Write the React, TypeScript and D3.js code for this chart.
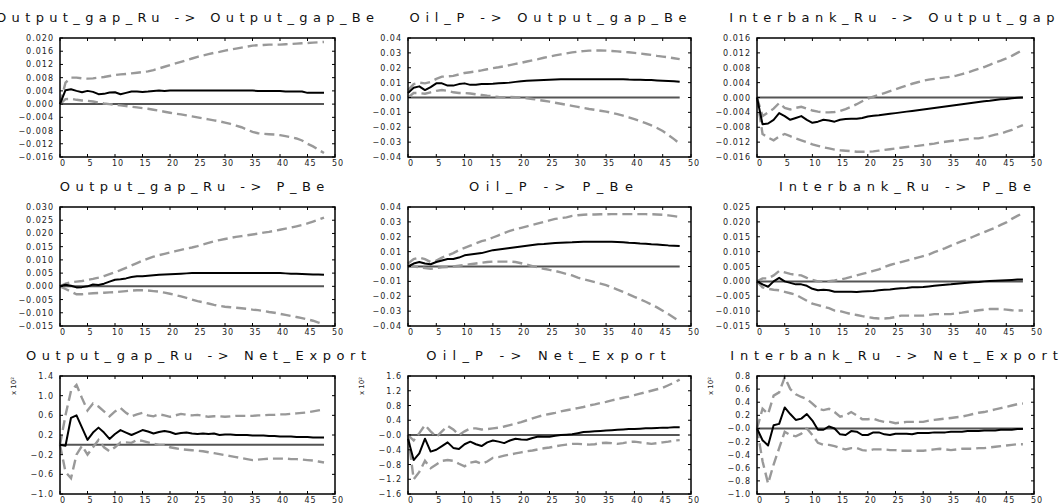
import React from 'react';
import * as d3 from 'd3';

// horizon 0..48, x axis 0..50
const horizon = d3.range(0, 49);
const xTicks = [0, 5, 10, 15, 20, 25, 30, 35, 40, 45, 50];

// ---- Output_gap_Ru -> Output_gap_Be
const ogOgIrf = [0, 0.0042, 0.0045, 0.004, 0.0036, 0.004, 0.0037, 0.003, 0.0031, 0.0035, 0.0036, 0.003, 0.0034, 0.0038, 0.0038, 0.0037, 0.0038, 0.004, 0.0041, 0.004,
  0.0041, 0.0041, 0.0041, 0.0041, 0.0041, 0.0041, 0.0041, 0.0041, 0.0041, 0.0041, 0.0041, 0.0041, 0.0041, 0.0041, 0.0041, 0.0041,
  0.004, 0.004, 0.004, 0.004, 0.004, 0.0038, 0.0038, 0.0038, 0.0038, 0.0034, 0.0034, 0.0034, 0.0034];
const ogOgHi = [0, 0.0065, 0.008, 0.008, 0.0078, 0.0077, 0.0078, 0.008, 0.0082, 0.0085, 0.0088, 0.009, 0.0091, 0.0093, 0.0095, 0.0097, 0.0099, 0.0103, 0.0108, 0.0113,
  0.0118, 0.0123, 0.0128, 0.0133, 0.0138, 0.0143, 0.0147, 0.0151, 0.0155, 0.0158, 0.0162, 0.0165, 0.0168, 0.0171, 0.0174, 0.0177, 0.0178, 0.0179, 0.018, 0.018,
  0.018, 0.0181, 0.0182, 0.0183, 0.0184, 0.0185, 0.0186, 0.0187, 0.0188];
const ogOgLo = [0, 0.0015, 0.0016, 0.0013, 0.0011, 0.001, 0.0008, 0.0005, 0.0002, 0, -0.0002, -0.0004, -0.0006, -0.0008, -0.001, -0.0012, -0.0014, -0.0017, -0.002, -0.0023,
  -0.0026, -0.0029, -0.0031, -0.0034, -0.0037, -0.004, -0.0043, -0.0046, -0.0049, -0.0052, -0.0056, -0.006, -0.0065, -0.007, -0.0077, -0.0084, -0.0088, -0.009, -0.0091, -0.0092,
  -0.0094, -0.0097, -0.01, -0.0104, -0.011, -0.012, -0.0128, -0.0138, -0.0148];

// ---- Oil_P -> Output_gap_Be
const oilOgIrf = [0.003, 0.0065, 0.0075, 0.005, 0.007, 0.0095, 0.0095, 0.008, 0.008, 0.009, 0.0095, 0.0085, 0.0085, 0.009, 0.009, 0.0092, 0.0095, 0.0098, 0.01, 0.0105,
  0.011, 0.0112, 0.0114, 0.0116, 0.0118, 0.012, 0.0121, 0.0122, 0.0123, 0.0123, 0.0123, 0.0123, 0.0123, 0.0123, 0.0123, 0.0123, 0.0123, 0.0123, 0.0123,
  0.0121, 0.012, 0.0119, 0.0118, 0.0117, 0.0115, 0.0113, 0.0111, 0.0109, 0.0106];
const oilOgHi = [0.005, 0.009, 0.01, 0.0095, 0.0105, 0.0125, 0.014, 0.0142, 0.0145, 0.0155, 0.0165, 0.017, 0.0175, 0.0182, 0.019, 0.0197, 0.0203, 0.021, 0.0218, 0.0226,
  0.0233, 0.0242, 0.025, 0.0258, 0.0267, 0.0275, 0.0283, 0.029, 0.0297, 0.0303, 0.0308, 0.0312, 0.0315, 0.0316, 0.0316, 0.0315, 0.0313, 0.031, 0.0307, 0.0304,
  0.03, 0.0296, 0.0291, 0.0286, 0.028, 0.0275, 0.027, 0.0264, 0.0258];
const oilOgLo = [0, 0.003, 0.003, 0.0025, 0.0035, 0.0045, 0.005, 0.0045, 0.0035, 0.003, 0.003, 0.0027, 0.0022, 0.0017, 0.0012, 0.0008, 0.0004, 0.0002, 0.0003, 0.0002,
  0, -0.0005, -0.001, -0.0016, -0.0022, -0.0028, -0.0035, -0.0042, -0.0049, -0.0056, -0.0063, -0.007, -0.0077, -0.0083, -0.0089, -0.0095, -0.0103, -0.0112, -0.0122, -0.0133,
  -0.0145, -0.0158, -0.0172, -0.0188, -0.0205, -0.0225, -0.0252, -0.028, -0.031];

// ---- Interbank_Ru -> Output_gap_Be
const ibOgIrf = [0, -0.0072, -0.007, -0.006, -0.0042, -0.005, -0.006, -0.0055, -0.005, -0.006, -0.0068, -0.0065, -0.006, -0.0062, -0.0065, -0.006, -0.0058, -0.0057, -0.0057, -0.0055,
  -0.0051, -0.0049, -0.0048, -0.0046, -0.0044, -0.0042, -0.004, -0.0038, -0.0036, -0.0034, -0.0032, -0.003, -0.0028, -0.0026, -0.0024, -0.0022, -0.002, -0.0018, -0.0016, -0.0014,
  -0.0012, -0.001, -0.0009, -0.0007, -0.0005, -0.0004, -0.0002, -0.0001, 0];
const ibOgHi = [0, -0.005, -0.004, -0.003, -0.0015, -0.0028, -0.0032, -0.0028, -0.0025, -0.003, -0.0035, -0.0038, -0.004, -0.004, -0.0039, -0.0036, -0.0031, -0.0025, -0.0018, -0.001,
  -0.0003, 0.0002, 0.0007, 0.0012, 0.0017, 0.0022, 0.0027, 0.0032, 0.0037, 0.0041, 0.0045, 0.0048, 0.005, 0.0052, 0.0054, 0.0056, 0.0059, 0.0063, 0.0067, 0.0072,
  0.0077, 0.0082, 0.0088, 0.0094, 0.0099, 0.0105, 0.0112, 0.012, 0.0128];
const ibOgLo = [0, -0.0098, -0.0108, -0.0115, -0.0105, -0.0098, -0.0104, -0.011, -0.0115, -0.012, -0.0126, -0.013, -0.0134, -0.0137, -0.014, -0.0142, -0.0143, -0.0144, -0.0146, -0.0146,
  -0.0146, -0.0145, -0.0143, -0.0141, -0.0139, -0.0137, -0.0135, -0.0133, -0.0131, -0.013, -0.0128, -0.0126, -0.0124, -0.0121, -0.0119, -0.0117, -0.0116, -0.0114, -0.0112, -0.011,
  -0.011, -0.0107, -0.0104, -0.01, -0.0097, -0.0092, -0.0087, -0.008, -0.0074];

// ---- Output_gap_Ru -> P_Be
const ogPIrf = [0, 0.0006, 0.0002, -0.0004, -0.0003, 0, 0.0007, 0.0005, 0.001, 0.0018, 0.0025, 0.0027, 0.003, 0.0035, 0.0038, 0.0038, 0.004, 0.0042, 0.0044, 0.0045,
  0.0046, 0.0047, 0.0048, 0.0049, 0.005, 0.005, 0.005, 0.005, 0.005, 0.005, 0.005, 0.005, 0.005, 0.005, 0.005, 0.005, 0.005, 0.005, 0.005, 0.005,
  0.005, 0.0049, 0.0048, 0.0048, 0.0047, 0.0046, 0.0045, 0.0045, 0.0044];
const ogPHi = [0, 0.001, 0.0015, 0.0018, 0.002, 0.0024, 0.0028, 0.0033, 0.0039, 0.0046, 0.0053, 0.0061, 0.007, 0.0079, 0.0088, 0.0097, 0.0105, 0.0112, 0.0118, 0.0123,
  0.0128, 0.0133, 0.0138, 0.0143, 0.0147, 0.0152, 0.0158, 0.0164, 0.017, 0.0175, 0.0179, 0.0183, 0.0187, 0.019, 0.0193, 0.0196, 0.0199, 0.0203, 0.0206, 0.021,
  0.0214, 0.0218, 0.0222, 0.0227, 0.0232, 0.0238, 0.0245, 0.0252, 0.026];
const ogPLo = [0, -0.001, -0.002, -0.003, -0.003, -0.0028, -0.0026, -0.0025, -0.0024, -0.0023, -0.0022, -0.002, -0.0018, -0.0016, -0.0015, -0.0015, -0.0016, -0.0018, -0.002, -0.0024,
  -0.0028, -0.0033, -0.0038, -0.0044, -0.005, -0.0056, -0.006, -0.0065, -0.007, -0.0074, -0.0077, -0.0079, -0.0081, -0.0083, -0.0085, -0.0088, -0.009, -0.0093, -0.0097, -0.01,
  -0.0104, -0.0108, -0.0112, -0.0116, -0.012, -0.0125, -0.013, -0.0137, -0.0144];

// ---- Oil_P -> P_Be
const oilPIrf = [0, 0.002, 0.003, 0.002, 0.0015, 0.003, 0.004, 0.005, 0.005, 0.006, 0.0075, 0.008, 0.0085, 0.009, 0.01, 0.011, 0.0115, 0.012, 0.0125, 0.013,
  0.0135, 0.014, 0.0145, 0.015, 0.0152, 0.0155, 0.0158, 0.016, 0.0162, 0.0163, 0.0165, 0.0166, 0.0166, 0.0166, 0.0166, 0.0166, 0.0166, 0.0165, 0.0163, 0.016,
  0.0158, 0.0155, 0.0153, 0.015, 0.0148, 0.0145, 0.0142, 0.014, 0.0138];
const oilPHi = [0.002, 0.005, 0.006, 0.005, 0.003, 0.004, 0.006, 0.0075, 0.009, 0.011, 0.0125, 0.014, 0.0155, 0.017, 0.018, 0.0195, 0.021, 0.0225, 0.024, 0.025,
  0.026, 0.027, 0.028, 0.029, 0.03, 0.031, 0.032, 0.0325, 0.033, 0.034, 0.0345, 0.0348, 0.035, 0.035, 0.0351, 0.0351, 0.0352, 0.0352, 0.0352, 0.0352,
  0.0352, 0.0352, 0.0352, 0.0351, 0.035, 0.0348, 0.0344, 0.0339, 0.0333];
const oilPLo = [0, 0, -0.0005, -0.001, -0.0015, -0.001, -0.0005, -0.0003, 0, 0.0005, 0.001, 0.0015, 0.002, 0.0025, 0.003, 0.0033, 0.0033, 0.0033, 0.0033, 0.003,
  0.0022, 0.0012, 0.0003, -0.0006, -0.0015, -0.0023, -0.003, -0.004, -0.005, -0.006, -0.0075, -0.0085, -0.0095, -0.0105, -0.0115, -0.0125, -0.014, -0.0155, -0.017, -0.0187,
  -0.0204, -0.022, -0.0237, -0.0255, -0.0275, -0.0297, -0.032, -0.0345, -0.037];

// ---- Interbank_Ru -> P_Be
const ibPIrf = [0, -0.001, -0.0018, 0, 0.0012, 0, -0.0005, -0.001, -0.001, -0.0015, -0.0025, -0.003, -0.0028, -0.003, -0.0035, -0.0035, -0.0035, -0.0035, -0.0036, -0.0034,
  -0.0033, -0.0032, -0.003, -0.0028, -0.0027, -0.0025, -0.0023, -0.0022, -0.002, -0.002, -0.0019, -0.0017, -0.0015, -0.0013, -0.0011, -0.001, -0.0008, -0.0006, -0.0005, -0.0003,
  -0.0002, 0, 0.0001, 0.0002, 0.0003, 0.0004, 0.0005, 0.0006, 0.0006];
const ibPHi = [0, 0.001, 0.001, 0.002, 0.0035, 0.003, 0.0025, 0.0022, 0.002, 0.0012, 0.0005, 0, 0, 0.0001, 0.0003, 0.0006, 0.001, 0.0015, 0.002, 0.0025,
  0.003, 0.0035, 0.004, 0.0048, 0.0055, 0.006, 0.0065, 0.007, 0.0075, 0.008, 0.0085, 0.009, 0.0098, 0.0105, 0.0112, 0.012, 0.0128, 0.0135, 0.0142, 0.015,
  0.0158, 0.0165, 0.0173, 0.018, 0.019, 0.0198, 0.021, 0.022, 0.023];
const ibPLo = [0, -0.002, -0.0025, -0.0028, -0.003, -0.0035, -0.004, -0.0045, -0.0055, -0.0065, -0.0075, -0.008, -0.0085, -0.009, -0.0098, -0.01, -0.0105, -0.011, -0.0113, -0.0117,
  -0.012, -0.0123, -0.0125, -0.0125, -0.0123, -0.012, -0.0115, -0.0115, -0.0115, -0.0115, -0.0115, -0.0113, -0.011, -0.011, -0.011, -0.011, -0.0107, -0.0105, -0.0102, -0.01,
  -0.0097, -0.0095, -0.0093, -0.0093, -0.0093, -0.0095, -0.0097, -0.0098, -0.0098];

// ---- Output_gap_Ru -> Net_Export (x 10^2)
const ogNxIrf = [0, -0.02, 0.55, 0.6, 0.35, 0.1, 0.25, 0.35, 0.25, 0.12, 0.22, 0.3, 0.25, 0.2, 0.25, 0.3, 0.27, 0.23, 0.26, 0.28,
  0.26, 0.22, 0.24, 0.25, 0.23, 0.22, 0.23, 0.22, 0.23, 0.2, 0.21, 0.21, 0.2, 0.2, 0.2, 0.19, 0.19, 0.19, 0.18, 0.18,
  0.17, 0.17, 0.17, 0.16, 0.16, 0.16, 0.15, 0.15, 0.15];
const ogNxHi = [0, 0.6, 1.1, 1.22, 0.95, 0.7, 0.84, 0.78, 0.68, 0.58, 0.68, 0.75, 0.65, 0.58, 0.62, 0.65, 0.6, 0.58, 0.62, 0.6,
  0.57, 0.6, 0.63, 0.61, 0.6, 0.61, 0.59, 0.57, 0.58, 0.58, 0.57, 0.58, 0.59, 0.59, 0.59, 0.59, 0.6, 0.6, 0.61, 0.61,
  0.62, 0.62, 0.63, 0.64, 0.65, 0.66, 0.68, 0.7, 0.72];
const ogNxLo = [0, -0.55, -0.68, -0.2, -0.02, -0.2, -0.05, 0.1, -0.05, -0.13, -0.05, 0.05, 0.05, 0.04, 0.1, 0.08, 0.05, 0.02, 0, 0,
  -0.05, -0.07, -0.09, -0.1, -0.11, -0.12, -0.13, -0.15, -0.17, -0.19, -0.21, -0.23, -0.25, -0.27, -0.29, -0.31, -0.3, -0.29, -0.28, -0.28,
  -0.28, -0.28, -0.29, -0.29, -0.3, -0.31, -0.32, -0.34, -0.36];

// ---- Oil_P -> Net_Export (x 10^2)
const oilNxIrf = [-0.1, -0.68, -0.5, -0.1, -0.45, -0.4, -0.3, -0.2, -0.35, -0.38, -0.25, -0.18, -0.25, -0.3, -0.2, -0.15, -0.18, -0.22, -0.15, -0.1,
  -0.12, -0.13, -0.08, -0.04, -0.05, -0.05, -0.02, 0, 0.01, 0.02, 0.05, 0.08, 0.09, 0.1, 0.11, 0.12, 0.13, 0.14, 0.15, 0.16,
  0.16, 0.17, 0.18, 0.18, 0.19, 0.2, 0.2, 0.21, 0.21];
const oilNxHi = [0, -0.15, 0.05, 0.27, 0.1, -0.05, 0.1, 0.25, 0.15, 0, 0.1, 0.18, 0.18, 0.15, 0.16, 0.18, 0.2, 0.23, 0.27, 0.31,
  0.35, 0.4, 0.45, 0.5, 0.54, 0.57, 0.6, 0.64, 0.67, 0.7, 0.73, 0.76, 0.8, 0.83, 0.87, 0.9, 0.94, 0.97, 1.01, 1.04,
  1.08, 1.12, 1.16, 1.2, 1.24, 1.28, 1.35, 1.42, 1.5];
const oilNxLo = [0, -1.2, -1.0, -0.7, -0.9, -0.8, -0.7, -0.68, -0.7, -0.78, -0.85, -0.75, -0.72, -0.78, -0.72, -0.62, -0.6, -0.56, -0.53, -0.5,
  -0.47, -0.44, -0.42, -0.39, -0.36, -0.34, -0.31, -0.28, -0.26, -0.24, -0.24, -0.25, -0.26, -0.25, -0.22, -0.21, -0.22, -0.24, -0.22, -0.19,
  -0.18, -0.2, -0.22, -0.24, -0.22, -0.2, -0.18, -0.15, -0.14];

// ---- Interbank_Ru -> Net_Export (x 10^2)
const ibNxIrf = [0, -0.18, -0.26, 0.05, 0.07, 0.32, 0.22, 0.13, 0.15, 0.22, 0.12, -0.02, -0.02, 0.03, 0, -0.09, -0.1, -0.04, -0.05, -0.1,
  -0.1, -0.06, -0.06, -0.09, -0.1, -0.08, -0.08, -0.08, -0.09, -0.07, -0.07, -0.07, -0.06, -0.06, -0.06, -0.05, -0.05, -0.05, -0.04, -0.04,
  -0.04, -0.03, -0.03, -0.03, -0.02, -0.02, -0.02, -0.01, -0.01];
const ibNxHi = [0, 0.3, 0.22, 0.5, 0.55, 0.78, 0.6, 0.52, 0.48, 0.45, 0.38, 0.3, 0.28, 0.3, 0.25, 0.18, 0.2, 0.25, 0.2, 0.14,
  0.14, 0.15, 0.12, 0.1, 0.1, 0.08, 0.09, 0.1, 0.1, 0.1, 0.1, 0.12, 0.13, 0.14, 0.15, 0.16, 0.17, 0.18, 0.2, 0.22,
  0.24, 0.25, 0.27, 0.29, 0.31, 0.33, 0.35, 0.37, 0.38];
const ibNxLo = [0, -0.5, -0.84, -0.55, -0.3, -0.05, -0.1, -0.12, -0.08, 0, -0.1, -0.22, -0.25, -0.25, -0.27, -0.3, -0.32, -0.3, -0.3, -0.33,
  -0.34, -0.32, -0.32, -0.32, -0.33, -0.33, -0.34, -0.34, -0.34, -0.34, -0.34, -0.33, -0.32, -0.31, -0.32, -0.33, -0.32, -0.31, -0.31, -0.31,
  -0.3, -0.3, -0.29, -0.28, -0.27, -0.26, -0.25, -0.24, -0.24];

// y tick values per panel
const ticksOgOg = [-0.016, -0.012, -0.008, -0.004, 0, 0.004, 0.008, 0.012, 0.016, 0.02];
const ticksOilOg = [-0.04, -0.03, -0.02, -0.01, 0, 0.01, 0.02, 0.03, 0.04];
const ticksIbOg = [-0.016, -0.012, -0.008, -0.004, 0, 0.004, 0.008, 0.012, 0.016];
const ticksOgP = [-0.015, -0.01, -0.005, 0, 0.005, 0.01, 0.015, 0.02, 0.025, 0.03];
const ticksOilP = [-0.04, -0.03, -0.02, -0.01, 0, 0.01, 0.02, 0.03, 0.04];
const ticksIbP = [-0.015, -0.01, -0.005, 0, 0.005, 0.01, 0.015, 0.02, 0.025];
const ticksOgNx = [-1.0, -0.6, -0.2, 0.2, 0.6, 1.0, 1.4];
const ticksOilNx = [-1.6, -1.2, -0.8, -0.4, 0, 0.4, 0.8, 1.2, 1.6];
const ticksIbNx = [-1.0, -0.8, -0.6, -0.4, -0.2, 0, 0.2, 0.4, 0.6, 0.8];

const panels = [
  [
    { title: 'Output_gap_Ru -> Output_gap_Be', irf: ogOgIrf, hi: ogOgHi, lo: ogOgLo, ticks: ticksOgOg, dec: 3 },
    { title: 'Oil_P -> Output_gap_Be', irf: oilOgIrf, hi: oilOgHi, lo: oilOgLo, ticks: ticksOilOg, dec: 2 },
    { title: 'Interbank_Ru -> Output_gap_Be', irf: ibOgIrf, hi: ibOgHi, lo: ibOgLo, ticks: ticksIbOg, dec: 3 },
  ],
  [
    { title: 'Output_gap_Ru -> P_Be', irf: ogPIrf, hi: ogPHi, lo: ogPLo, ticks: ticksOgP, dec: 3 },
    { title: 'Oil_P -> P_Be', irf: oilPIrf, hi: oilPHi, lo: oilPLo, ticks: ticksOilP, dec: 2 },
    { title: 'Interbank_Ru -> P_Be', irf: ibPIrf, hi: ibPHi, lo: ibPLo, ticks: ticksIbP, dec: 3 },
  ],
  [
    { title: 'Output_gap_Ru -> Net_Export', irf: ogNxIrf, hi: ogNxHi, lo: ogNxLo, ticks: ticksOgNx, dec: 1, scaled: true },
    { title: 'Oil_P -> Net_Export', irf: oilNxIrf, hi: oilNxHi, lo: oilNxLo, ticks: ticksOilNx, dec: 1, scaled: true },
    { title: 'Interbank_Ru -> Net_Export', irf: ibNxIrf, hi: ibNxHi, lo: ibNxLo, ticks: ticksIbNx, dec: 1, scaled: true },
  ],
];

// layout
const W = 1059, H = 504;
const cols = [[60, 335], [408, 691], [757, 1034]];
const rows = [38, 207, 376];
const plotH = [119, 119, 118];
const titleCx = [[185, 548, 912], [192, 551, 905], [196, 546, 894]];
const font = '"DejaVu Sans", sans-serif';

function fmt(v, dec, scaled) {
  if (v === 0) return scaled ? '−0.0' : (0).toFixed(dec);
  const s = Math.abs(v).toFixed(dec);
  return v < 0 ? '−' + s : s;
}

function Panel({ p, x0, x1, top, h, cx }) {
  const x = d3.scaleLinear().domain([0, 50]).range([x0, x1]);
  const y = d3.scaleLinear().domain([p.ticks[0], p.ticks[p.ticks.length - 1]]).range([top + h, top]);
  const line = d3.line().x((d, i) => x(horizon[i])).y(d => y(d));
  const zero = d3.line().x(d => x(d)).y(() => y(0));
  const n = p.title.length;
  return (
    <g>
      <text x={cx} y={top - 16} textAnchor="middle" fontFamily={font} fontSize={13}
        fill="#111" textLength={n * 12.6} lengthAdjust="spacing">{p.title}</text>
      <path d={zero([0, 48])} stroke="#555" strokeWidth={2} fill="none" />
      <path d={line(p.hi)} stroke="#999" strokeWidth={2.4} strokeDasharray="10,5" fill="none" />
      <path d={line(p.lo)} stroke="#999" strokeWidth={2.4} strokeDasharray="10,5" fill="none" />
      <path d={line(p.irf)} stroke="#000" strokeWidth={2} fill="none" strokeLinejoin="round" />
      <rect x={x0} y={top} width={x1 - x0} height={h} fill="none" stroke="#000" strokeWidth={1.5} />
      {xTicks.map(t => (
        <g key={'x' + t}>
          <line x1={x(t)} x2={x(t)} y1={top} y2={top + 3} stroke="#000" strokeWidth={1} />
          <line x1={x(t)} x2={x(t)} y1={top + h} y2={top + h - 3} stroke="#000" strokeWidth={1} />
          <text x={x(t) + 3} y={top + h + 8.5} textAnchor="middle" fontFamily={font} fontSize={8}
            letterSpacing={1} fill="#222">{t}</text>
        </g>
      ))}
      {p.ticks.map(t => (
        <g key={'y' + t}>
          <line x1={x0} x2={x0 + 3} y1={y(t)} y2={y(t)} stroke="#000" strokeWidth={1} />
          <line x1={x1} x2={x1 - 3} y1={y(t)} y2={y(t)} stroke="#000" strokeWidth={1} />
          <text x={x0 - 6} y={y(t) + 3} textAnchor="end" fontFamily={font} fontSize={8}
            letterSpacing={1} fill="#222">{fmt(t, p.dec, p.scaled)}</text>
        </g>
      ))}
      {p.scaled && (
        <text transform={`translate(${x0 - 44},${top + 10}) rotate(-90)`} textAnchor="middle"
          fontFamily={font} fontSize={7} fill="#222">x 10²</text>
      )}
    </g>
  );
}

export default function App() {
  return (
    <svg width={W} height={H} style={{ position: 'absolute', left: 0, top: 0, background: '#fff' }}>
      <rect width={W} height={H} fill="#fff" />
      {panels.map((row, r) => row.map((p, c) => (
        <Panel key={r + '-' + c} p={p} x0={cols[c][0]} x1={cols[c][1]} top={rows[r]} h={plotH[r]} cx={titleCx[r][c]} />
      )))}
    </svg>
  );
}
